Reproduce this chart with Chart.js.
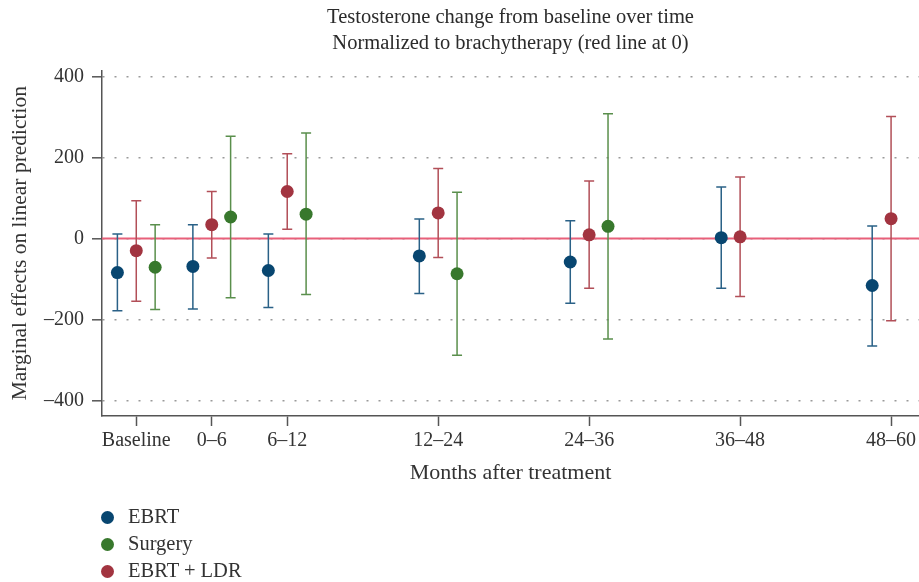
<!DOCTYPE html>
<html>
<head>
<meta charset="utf-8">
<script src="https://cdn.jsdelivr.net/npm/chart.js@4.4.0/dist/chart.umd.min.js"></script>
<style>
  body { margin: 0; background: #fff; }
  #wrap { position: relative; width: 919px; height: 582px; }
  #legend { position: absolute; left: 101px; top: 503px; font: 20.5px 'Liberation Serif', serif; color: #333; }
  #legend div { height: 27px; line-height: 27px; white-space: nowrap; }
  #legend span.dot { display: inline-block; width: 13px; height: 13px; border-radius: 50%; margin-right: 14px; vertical-align: -1px; }
</style>
</head>
<body>
<div id="wrap">
  <canvas id="myChart"></canvas>
  <div id="legend"></div>
</div>
<script>
    // Periodos (eje x) y su posicion en el eje
    var categories = ['Baseline', '0\u20136', '6\u201312', '12\u201324', '24\u201336', '36\u201348', '48\u201360'];
    var xPositions = [0, 1, 2, 4, 6, 8, 10];
    var yTicks = [-400, -200, 0, 200, 400];

    // Estimaciones e intervalos de confianza por grupo
    var ebrtEst = [-84, -69, -79, -43, -58, 2, -116];
    var ebrtLo  = [-178, -174, -170, -136, -160, -123, -265];
    var ebrtHi  = [11, 34, 11, 48, 44, 127, 31];

    var surgeryEst = [-71, 53, 60, -87, 30, null, null];
    var surgeryLo  = [-175, -146, -138, -288, -248, null, null];
    var surgeryHi  = [34, 252, 260, 114, 308, null, null];

    var ldrEst = [-30, 34, 116, 63, 9, 4, 49];
    var ldrLo  = [-155, -48, 23, -47, -123, -143, -203];
    var ldrHi  = [93, 116, 209, 173, 142, 152, 301];

    function makePoints(est, lo, hi, offset) {
        var pts = [];
        est.forEach((v, i) => {
            if (v === null) return;
            pts.push({ x: xPositions[i] + offset, y: v, lo: lo[i], hi: hi[i] });
        });
        return pts;
    }

    Chart.defaults.font.family = "'Liberation Serif', serif";
    Chart.defaults.font.size = 20;
    Chart.defaults.color = '#333';

    // Dibuja la linea roja en 0 y las barras de error
    var errorBars = {
        id: 'errorBars',
        beforeDatasetsDraw(chart) {
            var ctx = chart.ctx, area = chart.chartArea, x = chart.scales.x, y = chart.scales.y;
            ctx.save();
            var y0 = y.getPixelForValue(0);
            ctx.strokeStyle = '#e8607a';
            ctx.lineWidth = 2;
            ctx.beginPath();
            ctx.moveTo(area.left, y0);
            ctx.lineTo(area.right, y0);
            ctx.stroke();
            chart.data.datasets.forEach((ds, i) => {
                if (!chart.isDatasetVisible(i)) return;
                ctx.strokeStyle = ds.whiskerColor;
                ctx.lineWidth = 1.5;
                ds.data.forEach(p => {
                    var px = x.getPixelForValue(p.x);
                    var top = y.getPixelForValue(p.hi);
                    var bot = y.getPixelForValue(p.lo);
                    ctx.beginPath();
                    ctx.moveTo(px, top); ctx.lineTo(px, bot);
                    ctx.moveTo(px - 5, top); ctx.lineTo(px + 5, top);
                    ctx.moveTo(px - 5, bot); ctx.lineTo(px + 5, bot);
                    ctx.stroke();
                });
            });
            ctx.restore();
        }
    };

    var data = {
        datasets: [
            { label: 'EBRT', data: makePoints(ebrtEst, ebrtLo, ebrtHi, -0.25),
              backgroundColor: '#084670', whiskerColor: '#2a6187' },
            { label: 'Surgery', data: makePoints(surgeryEst, surgeryLo, surgeryHi, 0.25),
              backgroundColor: '#38782d', whiskerColor: '#5a8f4c' },
            { label: 'EBRT + LDR', data: makePoints(ldrEst, ldrLo, ldrHi, 0),
              backgroundColor: '#a23440', whiskerColor: '#b24f58' }
        ]
    };

    var config = {
        type: 'scatter',
        data: data,
        plugins: [errorBars],
        options: {
            responsive: true,
            maintainAspectRatio: false,
            animation: false,
            layout: { autoPadding: false, padding: { left: 0, right: 0, top: 0, bottom: 94 } },
            elements: { point: { radius: 6.5, hoverRadius: 6.5, borderWidth: 0 } },
            plugins: {
                legend: { display: false },
                tooltip: { enabled: false },
                title: {
                    display: true,
                    fullSize: false,
                    text: ['Testosterone change from baseline over time', 'Normalized to brachytherapy (red line at 0)'],
                    color: '#2b2b2b',
                    font: { size: 20.5, weight: 'normal', lineHeight: 1.3 },
                    padding: { top: 4, bottom: 13 }
                }
            },
            scales: {
                x: {
                    type: 'linear',
                    min: -0.454,
                    max: 10.37,
                    afterBuildTicks: s => { s.ticks = xPositions.map(v => ({ value: v })); },
                    afterFit: s => { s.height = 72; s.paddingRight = 0; s.paddingLeft = 0; },
                    ticks: {
                        autoSkip: false, maxRotation: 0, padding: 3, color: '#333',
                        callback: v => categories[xPositions.indexOf(v)]
                    },
                    grid: { drawOnChartArea: false, drawTicks: true, tickLength: 10, tickColor: '#555', tickWidth: 1.5 },
                    border: { display: true, color: '#555', width: 1.5 },
                    title: { display: true, text: 'Months after treatment', color: '#333',
                             font: { size: 22 }, padding: { top: 0, bottom: 2 } }
                },
                y: {
                    min: -438,
                    max: 415,
                    afterBuildTicks: s => { s.ticks = yTicks.map(v => ({ value: v })); },
                    afterFit: s => { s.width = 102; },
                    ticks: {
                        padding: 8, color: '#333',
                        callback: v => v < 0 ? '\u2013' + Math.abs(v) : String(v)
                    },
                    grid: { color: '#9a9a9a', lineWidth: 1.6, tickLength: 10, tickColor: '#555', tickWidth: 1.5, tickBorderDash: [] },
                    border: { display: true, color: '#555', width: 1.5, dash: [2, 10] },
                    title: { display: true, text: 'Marginal effects on linear prediction', color: '#333',
                             font: { size: 21.5 }, padding: { top: 7, bottom: 0 } }
                }
            }
        }
    };

    var myChart = new Chart(document.getElementById('myChart'), config);

    // Leyenda vertical abajo a la izquierda
    var legend = document.getElementById('legend');
    myChart.data.datasets.forEach(ds => {
        var row = document.createElement('div');
        row.innerHTML = '<span class="dot" style="background:' + ds.backgroundColor + '"></span>' + ds.label;
        legend.appendChild(row);
    });
</script>
</body>
</html>
